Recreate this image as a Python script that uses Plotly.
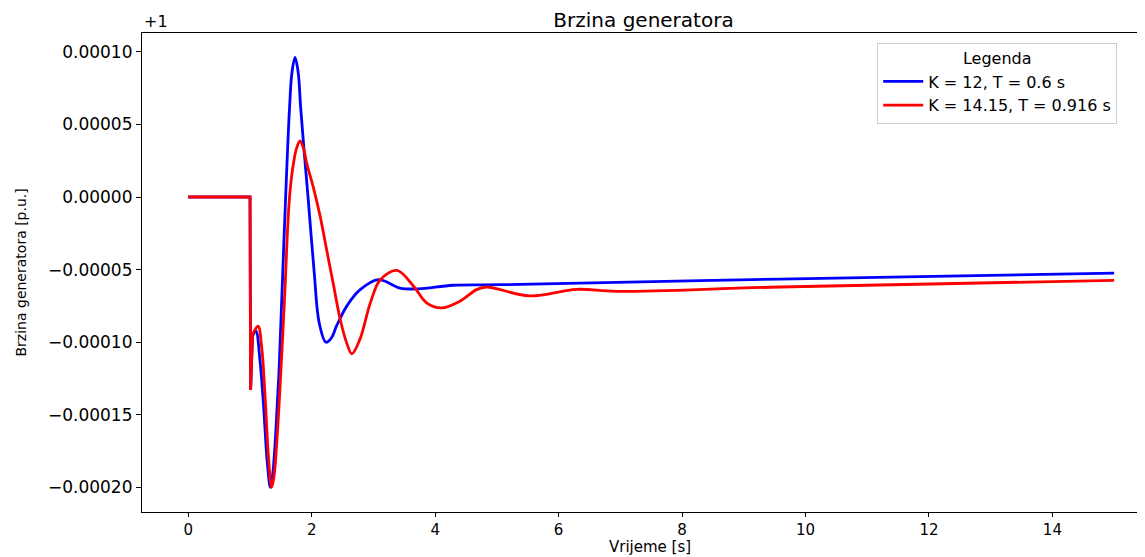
import plotly.graph_objects as go

# ---- data (deviation from 1 p.u.) ----
t_blue = [0.0, 1.0, 1.01, 1.04, 1.095, 1.16, 1.22, 1.28, 1.33, 1.37, 1.42, 1.47, 1.52,
          1.58, 1.64, 1.68, 1.73, 1.78, 1.82, 1.88, 1.94, 2.04, 2.12, 2.23, 2.32, 2.40,
          2.57, 2.78, 3.08, 3.43, 3.73, 4.29, 5.05, 9.58, 15.0]
v_blue = [0.0, 0.0, -1.33e-4, -9.6e-5, -9.24e-5, -1.12e-4, -1.44e-4, -1.83e-4, -2.0e-4,
          -1.9e-4, -1.6e-4, -1.2e-4, -6.4e-5, 3e-6, 6.1e-5, 8.6e-5, 9.62e-5, 8.6e-5,
          6.2e-5, 3.0e-5, 0.0, -5.2e-5, -8.65e-5, -1.0e-4, -9.7e-5, -8.9e-5, -7.5e-5,
          -6.4e-5, -5.69e-5, -6.27e-5, -6.33e-5, -6.08e-5, -6.04e-5, -5.65e-5, -5.24e-5]

t_red = [0.0, 1.0, 1.01, 1.04, 1.13, 1.19, 1.25, 1.30, 1.35, 1.39, 1.44, 1.50, 1.57,
         1.60, 1.63, 1.66, 1.70, 1.75, 1.81, 1.87, 1.92, 2.03, 2.14, 2.24, 2.35, 2.46,
         2.57, 2.65, 2.78, 2.95, 3.11, 3.38, 3.65, 3.86, 4.10, 4.40, 4.67, 4.83, 5.53,
         6.29, 6.94, 9.58, 15.0]
v_red = [0.0, 0.0, -1.33e-4, -9.5e-5, -8.9e-5, -1.04e-4, -1.42e-4, -1.80e-4, -2.0e-4,
         -1.92e-4, -1.65e-4, -1.2e-4, -6.0e-5, -3.0e-5, -6e-6, 9e-6, 2.2e-5, 3.3e-5,
         3.86e-5, 3.3e-5, 2.3e-5, 6e-6, -1.4e-5, -3.6e-5, -6.0e-5, -8.4e-5, -1.01e-4,
         -1.08e-4, -9.81e-5, -7.29e-5, -5.7e-5, -5.06e-5, -6.15e-5, -7.29e-5, -7.64e-5,
         -7.18e-5, -6.38e-5, -6.2e-5, -6.81e-5, -6.36e-5, -6.5e-5, -6.2e-5, -5.74e-5]

names = ["K = 12, T = 0.6 s", "K = 14.15, T = 0.916 s"]
colors = ["#0000ff", "#ff0000"]

x_ticks = [0, 2, 4, 6, 8, 10, 12, 14]
y_ticks = [1e-4, 5e-5, 0.0, -5e-5, -1e-4, -1.5e-4, -2e-4]
y_ticktext = ["0.00010", "0.00005", "0.00000", "\u22120.00005", "\u22120.00010",
              "\u22120.00015", "\u22120.00020"]

FONT = "DejaVu Sans"
W, H = 1137, 549   # page body adds an 8 px offset in the browser window

fig = go.Figure()

for t, v, name, col in [(t_blue, v_blue, names[0], colors[0]), (t_red, v_red, names[1], colors[1])]:
    # sharp step section
    fig.add_trace(go.Scatter(x=t[:4], y=v[:4], mode="lines", name=name, legendgroup=name,
                             showlegend=False, line=dict(color=col, width=2.8, shape="linear")))
    # smooth oscillation
    fig.add_trace(go.Scatter(x=t[3:], y=v[3:], mode="lines", name=name, legendgroup=name,
                             showlegend=True,
                             line=dict(color=col, width=2.8, shape="spline", smoothing=1.0)))

fig.update_layout(
    width=W, height=H,
    margin=dict(l=134, r=0, t=25, b=45),
    paper_bgcolor="white", plot_bgcolor="white",
    font=dict(family=FONT, size=16, color="black"),
    showlegend=True,
    title=dict(text="Brzina generatora", x=0.5, xanchor="center", xref="paper",
               y=1 - 12 / H, yref="container", yanchor="middle",
               font=dict(family=FONT, size=20, color="black")),
    legend=dict(x=0.733, y=0.98, xanchor="left", yanchor="top",
                bgcolor="rgba(255,255,255,0.8)", bordercolor="#cccccc", borderwidth=1,
                font=dict(family=FONT, size=16, color="black"),
                title=dict(text="Legenda", side="top center", font=dict(family=FONT, size=16)),
                itemwidth=40, tracegroupgap=0),
)

fig.update_xaxes(range=[-0.75, 15.5], tickvals=x_ticks, ticktext=[str(v) for v in x_ticks],
                 showgrid=False, zeroline=False, showline=True, linecolor="black", linewidth=1.2,
                 mirror=True, ticks="outside", ticklen=4, tickcolor="black", tickwidth=1.2,
                 tickfont=dict(family=FONT, size=15))
fig.update_yaxes(range=[-0.000217, 0.000113], tickvals=y_ticks, ticktext=y_ticktext,
                 showgrid=False, zeroline=False, showline=True, linecolor="black", linewidth=1.2,
                 ticks="outside", ticklen=5, tickcolor="black", tickwidth=1.2,
                 tickfont=dict(family=FONT, size=17))

fig.add_annotation(text="+1", xref="paper", yref="paper", x=0.0, y=1.0, xanchor="left",
                   yanchor="bottom", showarrow=False, font=dict(family=FONT, size=16))
fig.add_annotation(text="Brzina generatora [p.u.]", xref="paper", yref="paper",
                   x=(12 - 134) / 1003, y=0.5, xanchor="center", yanchor="middle",
                   textangle=-90, showarrow=False, font=dict(family=FONT, size=14))
fig.add_annotation(text="Vrijeme [s]", xref="paper", yref="paper",
                   x=(650 - 142) / 1003, y=-(547 - 512) / 479, xanchor="center",
                   yanchor="middle", showarrow=False, font=dict(family=FONT, size=15))

fig.write_html("out.html")
